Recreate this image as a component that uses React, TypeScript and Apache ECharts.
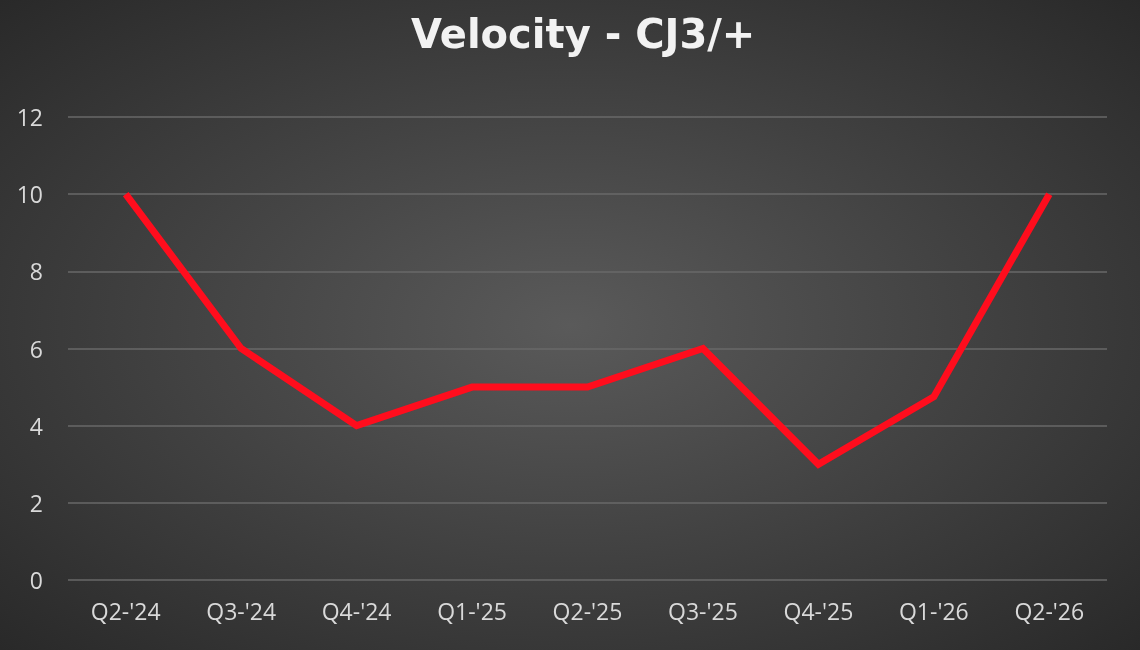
import React, { useEffect, useRef } from "react";
import * as echarts from "echarts";

const categories = ["Q2-'24", "Q3-'24", "Q4-'24", "Q1-'25", "Q2-'25", "Q3-'25", "Q4-'25", "Q1-'26", "Q2-'26"];
const velocity = [10, 6, 4, 5, 5, 6, 3, 4.75, 10];
const yTicks = { min: 0, max: 12, interval: 2 };
const title = "Velocity - CJ3/+";

export default function App() {
  const ref = useRef<HTMLDivElement>(null);
  useEffect(() => {
    if (!ref.current) return;
    const chart = echarts.init(ref.current, null, { renderer: "svg" });
    chart.setOption({
      animation: false,
      backgroundColor: {
        type: "radial",
        x: 0.5,
        y: 0.5,
        r: 0.75,
        colorStops: [
          { offset: 0, color: "#5a5a5a" },
          { offset: 1, color: "#262626" },
        ],
      },
      title: {
        text: title,
        left: 406,
        top: 9,
        textStyle: { color: "#f2f2f2", fontSize: 40, fontWeight: "bold", fontFamily: "DejaVu Sans" },
      },
      grid: { left: 68, right: 33, top: 117, bottom: 70 },
      xAxis: {
        type: "category",
        data: categories,
        boundaryGap: true,
        axisLine: { show: false },
        axisTick: { show: false },
        axisLabel: { color: "#d9d9d9", fontSize: 23, fontFamily: "Open Sans", margin: 19 },
      },
      yAxis: {
        type: "value",
        min: yTicks.min,
        max: yTicks.max,
        interval: yTicks.interval,
        axisLine: { show: false },
        axisTick: { show: false },
        axisLabel: { color: "#d9d9d9", fontSize: 23, fontFamily: "Open Sans", margin: 25 },
        splitLine: { lineStyle: { color: "#686868", width: 1.5 } },
      },
      series: [
        {
          type: "line",
          data: velocity,
          symbol: "none",
          lineStyle: { color: "#ff0d1d", width: 7, join: "miter" },
        },
      ],
    });
    return () => chart.dispose();
  }, []);
  return <div ref={ref} style={{ position: "fixed", left: 0, top: 0, width: 1140, height: 650 }} />;
}
